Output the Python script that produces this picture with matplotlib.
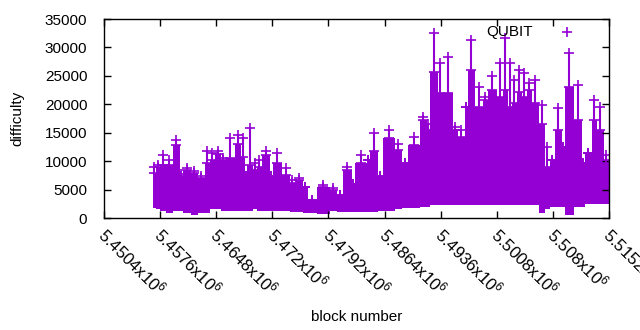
import matplotlib
matplotlib.use("Agg")
import matplotlib.pyplot as plt
import matplotlib.transforms as mtransforms
import numpy as np

plt.rcParams['font.family'] = ['Liberation Sans', 'DejaVu Sans']
plt.rcParams['mathtext.fontset'] = 'custom'
plt.rcParams['mathtext.rm'] = 'Liberation Sans'
plt.rcParams['mathtext.it'] = 'Liberation Sans'

# start block of each stretch, and the difficulty envelope
blocks = [5456687, 5457072, 5457585, 5458355, 5459253, 5460151, 5460536, 5461562,
          5462460, 5463358, 5464000, 5464641, 5465411, 5466053, 5467207, 5467977,
          5468490, 5468747, 5469517, 5470030, 5470671, 5471698, 5472083, 5473237,
          5474264, 5474905, 5475932, 5476573, 5477728, 5479396, 5480294, 5481064,
          5482218, 5482603, 5484143, 5484528, 5485554, 5486196, 5487735, 5488633,
          5489403, 5490943, 5491841, 5492226, 5493252, 5493894, 5495177, 5495818,
          5496716, 5497101, 5498000, 5499026, 5499667, 5500822, 5501592, 5502233,
          5502746, 5503388, 5504029, 5504671, 5505312, 5506211, 5506980, 5507622,
          5508263, 5509161, 5509546, 5510701, 5511727, 5512112, 5513010, 5513652,
          5514550]
body_hi = [7900, 9000, 9300, 9300, 12800, 7300, 8400, 7900,
           7000, 9600, 10200, 11200, 10200, 10500, 13100, 10800,
           7300, 9300, 8400, 9000, 11100, 7300, 9600, 7600,
           6100, 6600, 5500, 3100, 5400, 4900, 4100, 8400,
           6000, 9600, 10200, 11700, 7300, 14000, 12000, 9600,
           12800, 17200, 15500, 25700, 21900, 22000, 15500, 14300,
           19500, 26000, 19500, 20700, 22500, 21300, 22500, 19500,
           20200, 22200, 21300, 22500, 20200, 16600, 9000, 10200,
           15500, 12500, 23100, 17200, 9600, 11400, 17200, 15500,
           10200]
peak = [8900, 9300, 11100, 10200, 13700, 7800, 8800, 8200,
        7300, 11700, 11400, 11700, 10500, 14000, 14600, 14000,
        7300, 15800, 9600, 10200, 11700, 7300, 11400, 8800,
        6600, 7000, 5500, 3100, 5800, 5200, 4100, 9000,
        6000, 11100, 10200, 14900, 7300, 15500, 13100, 9600,
        14300, 17800, 16600, 32500, 27200, 28400, 16000, 15500,
        19500, 31300, 23100, 21300, 24900, 27200, 31600, 27200,
        24300, 26000, 25500, 23700, 24300, 19900, 12500, 10200,
        19300, 12500, 29000, 23400, 9600, 11400, 20800, 19600,
        11000]
body_lo = [1800, 1500, 1200, 900, 1200, 1200, 900, 600,
           800, 900, 1500, 1500, 1200, 1200, 1300, 1200,
           1200, 1200, 1500, 1200, 1200, 1200, 1200, 1200,
           1000, 1000, 900, 900, 700, 1200, 1000, 1000,
           1000, 1000, 1000, 1000, 1200, 1200, 1500, 1800,
           1800, 2000, 2000, 2300, 2300, 2300, 2300, 2300,
           2300, 2300, 2300, 2300, 2300, 2300, 2300, 2300,
           2300, 2300, 2300, 2300, 2300, 800, 1500, 2000,
           2000, 2000, 500, 2000, 2000, 2500, 2500, 2500,
           2500]

x_start = 5450400
x_end = 5515152
xticks = [5450400, 5457600, 5464800, 5472000, 5479200,
          5486400, 5493600, 5500800, 5508000, 5515200]
xtick_labels = ['5.4504', '5.4576', '5.4648', '5.472', '5.4792',
                '5.4864', '5.4936', '5.5008', '5.508', '5.5152']

color = '#9400d3'

fig = plt.figure(figsize=(6.4, 3.3), dpi=100)
ax = fig.add_axes([104 / 640, 1 - 218 / 330, 505 / 640, 199 / 330])

# solid body of the point cloud, then the stacked '+' spikes above it
xs = np.array(blocks + [x_end + 2000])
hi = np.array(body_hi + [body_hi[-1]])
lo = np.array(body_lo + [body_lo[-1]])
ax.fill_between(xs, lo, hi, step='post', color=color, lw=0)
mid = (np.array(blocks) + np.append(np.array(blocks[1:]), x_end)) / 2
ax.vlines(mid, body_hi, peak, color=color, lw=1.5)
ax.plot(mid, body_hi, '+', color=color, ms=7, mew=1.2)
ax.plot(mid, peak, '+', color=color, ms=7, mew=1.2)

ax.set_xlim(x_start, x_end)
ax.set_ylim(0, 35000)
ax.set_yticks(range(0, 35001, 5000))
ax.set_xticks(xticks)
ax.set_xticklabels([t + r'x10$^{6}$' for t in xtick_labels],
                   rotation=-45, ha='left', va='top', rotation_mode='anchor')
ax.tick_params(direction='in', top=True, right=True, length=5, width=1,
               labelsize=11)
ax.tick_params(axis='x', pad=6, labelsize=12)
ax.tick_params(axis='y', pad=12)
shift = mtransforms.ScaledTranslation(0.05, 0.02, fig.dpi_scale_trans)
for lab in ax.get_xticklabels():
    lab.set_transform(lab.get_transform() + shift)
for s in ax.spines.values():
    s.set_linewidth(1)

ax.set_xlabel('block number', fontsize=11, labelpad=8)
ax.set_ylabel('difficulty', fontsize=11, labelpad=15)

# gnuplot style key: label right-justified, then the point sample
ax.text(0.8495, 0.9347, 'QUBIT', transform=ax.transAxes, ha='right',
        va='center', fontsize=11)
ax.plot([0.9168], [0.9347], '+', color=color, ms=7, mew=1.2,
        transform=ax.transAxes, clip_on=False)

fig.savefig('out.png', dpi=100)
